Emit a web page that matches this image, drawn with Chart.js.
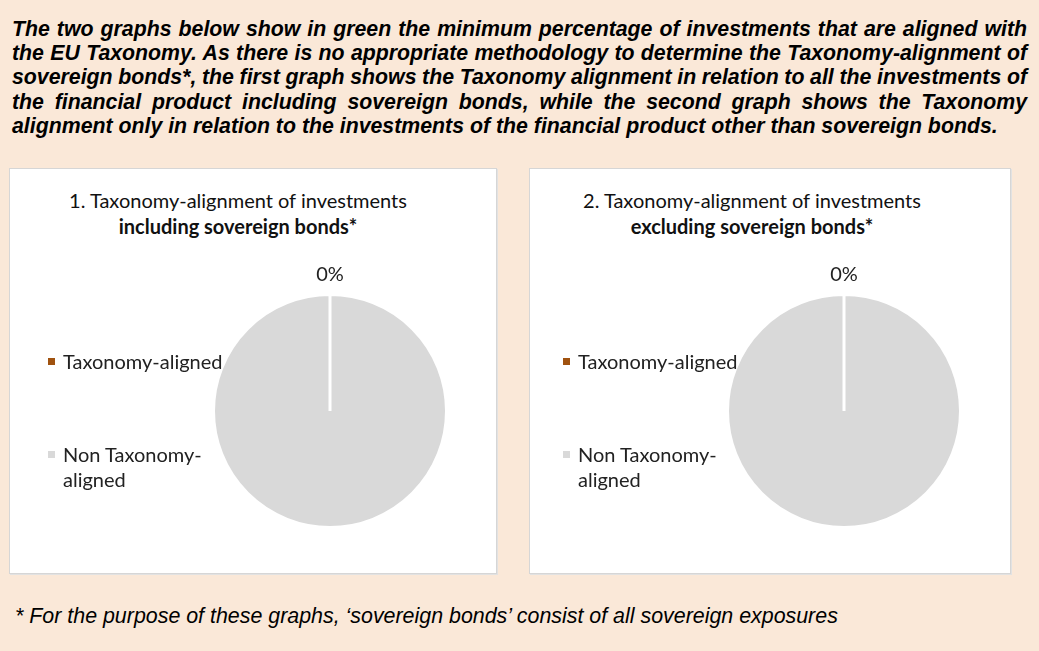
<!DOCTYPE html>
<html>
<head>
<meta charset="utf-8">
<script src="https://cdn.jsdelivr.net/npm/chart.js@4/dist/chart.umd.min.js"></script>
<style>
  html, body { margin: 0; padding: 0; }
  body { width: 1039px; height: 651px; background: #FAE8D8; position: relative; overflow: hidden; }
  #intro {
    position: absolute; left: 12px; top: 17px; width: 1015px; margin: 0;
    font: italic bold 21.3px "Liberation Sans", Arial, sans-serif; line-height: 24.2px; color: #000;
  }
  #intro span { display: block; white-space: nowrap; text-align: justify; text-align-last: justify; }
  #intro span:last-child { text-align-last: left; }
  #intro span.apretada { word-spacing: -1px; }
  .caja {
    position: absolute; top: 168px; height: 406px; background: #fff;
    border: 1px solid #D6D6D6; box-shadow: 1px 1px 0 #E2E2E2; box-sizing: border-box;
  }
  .titulo {
    position: absolute; top: 18px; width: 420px; text-align: center;
    font: 20px Lato, "Noto Sans", sans-serif; line-height: 26px; color: #111;
  }
  .titulo b { font-weight: bold; }
  .leyenda { position: absolute; top: 180px; z-index: 2; font: 20px Lato, "Noto Sans", sans-serif; color: #222; }
  .item { position: relative; width: 180px; line-height: 25px; padding-left: 15px; }
  .item i { position: absolute; left: 0; top: 9px; width: 7px; height: 7px; }
  .item + .item { margin-top: 68px; }
  .caja canvas { position: absolute; z-index: 1; }
  #nota {
    position: absolute; left: 15px; top: 604px; margin: 0;
    font: italic 21.4px "Liberation Sans", Arial, sans-serif; line-height: 24px; color: #000;
  }
</style>
</head>
<body>
<p id="intro"><span>The two graphs below show in green the minimum percentage of investments that are aligned with</span>
<span>the EU Taxonomy. As there is no appropriate methodology to determine the Taxonomy-alignment of</span>
<span class="apretada">sovereign bonds*, the first graph shows the Taxonomy alignment in relation to all the investments of</span>
<span>the financial product including sovereign bonds, while the second graph shows the Taxonomy</span>
<span>alignment only in relation to the investments of the financial product other than sovereign bonds.</span></p>

<div class="caja" id="caja1" style="left:9px; width:488px;">
  <div class="titulo" style="left:18px;">1. Taxonomy-alignment of investments<br><b>including sovereign bonds*</b></div>
  <div class="leyenda" style="left:38px;"></div>
  <canvas id="grafico1" width="268" height="296"></canvas>
</div>
<div class="caja" id="caja2" style="left:529px; width:482px;">
  <div class="titulo" style="left:12px;">2. Taxonomy-alignment of investments<br><b>excluding sovereign bonds*</b></div>
  <div class="leyenda" style="left:33px;"></div>
  <canvas id="grafico2" width="268" height="296"></canvas>
</div>

<p id="nota">* For the purpose of these graphs, ‘sovereign bonds’ consist of all sovereign exposures</p>

<script>
// Categories and values (percent of investments)
const categorias = ['Taxonomy-aligned', 'Non Taxonomy-aligned'];
const incluyendoSoberanos = [0, 100];
const excluyendoSoberanos = [0, 100];
const colores = ['#A0520F', '#D9D9D9'];

// Percentage label just outside each slice
const etiquetasPorcentaje = {
  id: 'etiquetasPorcentaje',
  afterDatasetsDraw(chart) {
    const ctx = chart.ctx;
    const valores = chart.data.datasets[0].data;
    const total = valores.reduce((a, b) => a + b, 0);
    const meta = chart.getDatasetMeta(0);
    ctx.save();
    ctx.font = '20px Lato, "Noto Sans", sans-serif';
    ctx.fillStyle = '#222';
    ctx.textAlign = 'center';
    ctx.textBaseline = 'middle';
    meta.data.forEach((arco, i) => {
      if (valores[i] !== 0) return; // only the small slice gets a label, as in the original
      const ang = (arco.startAngle + arco.endAngle) / 2;
      const r = arco.outerRadius + 20;
      ctx.fillText(Math.round(valores[i] / total * 100) + '%', arco.x + Math.cos(ang) * r, arco.y + Math.sin(ang) * r);
    });
    ctx.restore();
  }
};

function renderizarGrafico(idCanvas, valores, cajaId, cx, cy) {
  const canvas = document.getElementById(idCanvas);
  // chart area is a square around the pie centre; extra room on top for the label
  canvas.style.left = (cx - 134) + 'px';
  canvas.style.top = (cy - 116 - 48) + 'px';

  // HTML legend built from the same categories / colours
  const leyenda = document.querySelector('#' + cajaId + ' .leyenda');
  leyenda.innerHTML = categorias.map((c, i) =>
    '<div class="item"><i style="background:' + colores[i] + '"></i>' + c + '</div>').join('');

  return new Chart(canvas.getContext('2d'), {
    type: 'pie',
    data: {
      labels: categorias,
      datasets: [{
        data: valores,
        backgroundColor: colores,
        borderColor: '#ffffff',
        borderWidth: 3
      }]
    },
    options: {
      responsive: false,
      animation: false,
      layout: { padding: { top: 46, bottom: 14, left: 16, right: 16 } },
      plugins: {
        legend: { display: false },
        tooltip: { enabled: false },
        title: { display: false }
      }
    },
    plugins: [etiquetasPorcentaje]
  });
}

renderizarGrafico('grafico1', incluyendoSoberanos, 'caja1', 320, 242);
renderizarGrafico('grafico2', excluyendoSoberanos, 'caja2', 314, 242);
</script>
</body>
</html>
